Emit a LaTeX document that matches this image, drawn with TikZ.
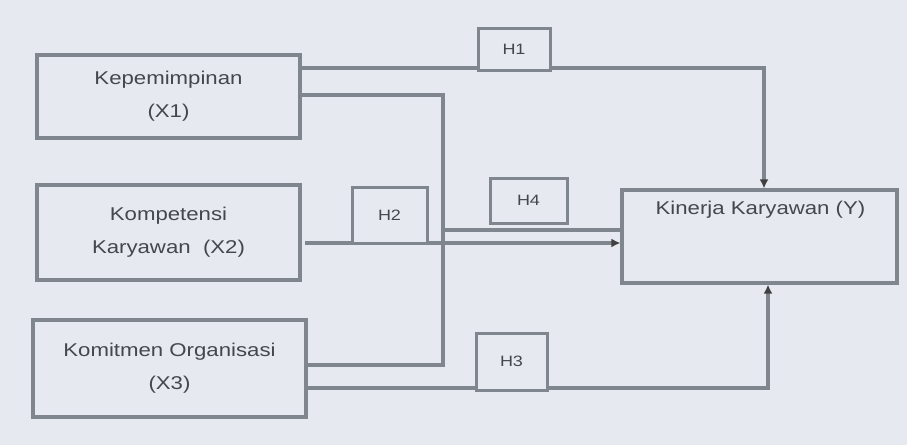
\documentclass[tikz,border=0pt]{standalone}
\usepackage{fontspec}
\setmainfont{Liberation Sans}[FakeStretch=1.2]
\usetikzlibrary{arrows.meta}
\definecolor{bg}{HTML}{E6E9EF}
\definecolor{ln}{HTML}{80868D}
\definecolor{tx}{HTML}{44474B}
\begin{document}
\begin{tikzpicture}[x=1pt,y=-1pt,
  box/.style={draw=ln, line width=3.2pt, rectangle, inner sep=0pt, text=tx, align=center, font=\fontsize{18.5}{33}\selectfont},
  hbox/.style={draw=ln, fill=bg, line width=3pt, rectangle, inner sep=0pt, text=tx, font=\fontsize{15}{18}\selectfont},
  conn/.style={draw=ln, line width=3.2pt},
  tip/.style={-{Latex[length=9pt,width=9pt,color=black!75]}}]
\fill[bg] (0,0) rectangle (907,445);
\useasboundingbox (0,0) rectangle (907,445);

\node[box, minimum width=263pt, minimum height=83pt] (X1) at (168.5,96.5) {Kepemimpinan\\(X1)};
\node[box, minimum width=263pt, minimum height=95pt] (X2) at (168.5,232.5) {Kompetensi\\Karyawan~~(X2)};
\node[box, minimum width=273pt, minimum height=97pt] (X3) at (169.5,368.5) {Komitmen Organisasi\\(X3)};
\node[box, minimum width=275pt, minimum height=93pt] (Y) at (759.5,236.5) {};
\node[text=tx, inner sep=0pt, font=\fontsize{18.5}{33}\selectfont] (Yt) at (760.5,210) {Kinerja Karyawan (Y)};

\coordinate (p1) at (764,68);
\draw[conn,tip] (X1.east |- p1) -- (p1) -- (p1 |- Y.north);

\coordinate (p2) at (443,95);
\coordinate (p3) at (443,365);
\draw[conn] (X1.east |- p2) -- (p2) -- (p3) -- (X3.east |- p3);
\coordinate (p4) at (443,230);
\draw[conn] (p4) -- (p4 -| Y.west);

\coordinate (p5) at (305,243);
\draw[conn,tip] (p5) -- (p5 -| Y.west);

\coordinate (p6) at (768,388);
\draw[conn,tip] (X3.east |- p6) -- (p6) -- (p6 |- Y.south);

\node[hbox, minimum width=72pt, minimum height=42pt] (H1) at (514,49) {H1};
\node[hbox, minimum width=77pt, minimum height=45pt] (H4) at (528.5,200.5) {H4};
\node[hbox, minimum width=75pt, minimum height=56pt] (H2) at (389.5,215) {H2};
\node[hbox, minimum width=71pt, minimum height=57pt] (H3) at (511.5,361.5) {H3};
\end{tikzpicture}
\end{document}
